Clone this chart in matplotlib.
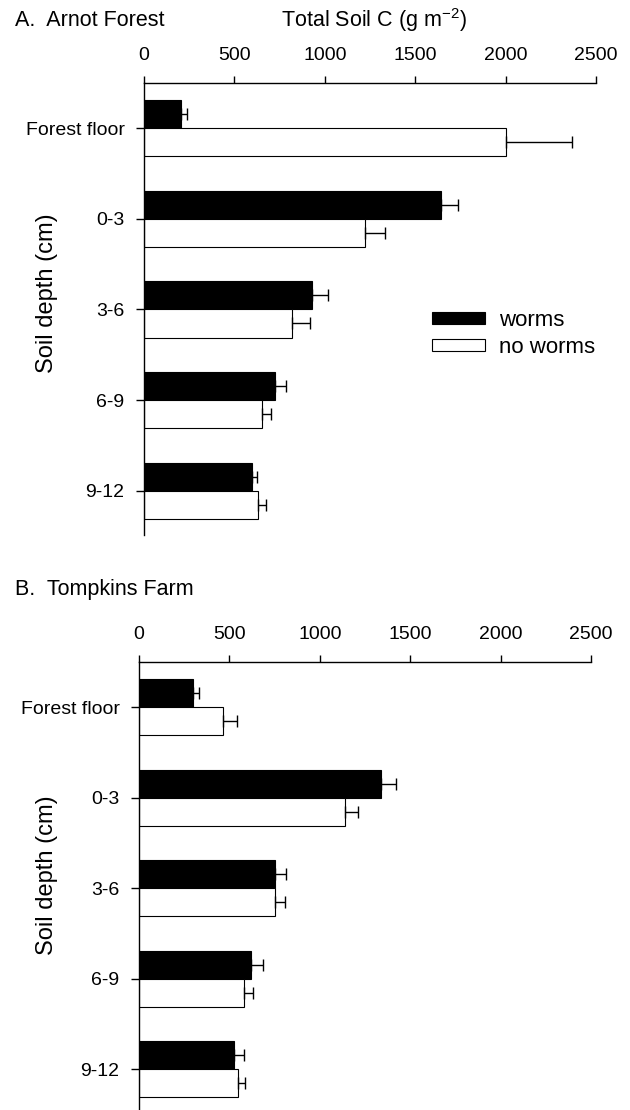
import matplotlib
matplotlib.use("Agg")
import matplotlib.pyplot as plt
import numpy as np

plt.rcParams["font.family"] = ["Liberation Sans", "DejaVu Sans"]
plt.rcParams["mathtext.default"] = "regular"

# ── data ────────────────────────────────────────────────────────────────────
depths = ["Forest floor", "0-3", "3-6", "6-9", "9-12"]

arnot_worms = [205, 1645, 930, 725, 595]
arnot_worms_err = [33, 90, 88, 58, 28]
arnot_noworms = [2000, 1222, 818, 650, 630]
arnot_noworms_err = [366, 110, 99, 55, 47]

tompkins_worms = [300, 1336, 752, 618, 525]
tompkins_worms_err = [34, 87, 59, 66, 54]
tompkins_noworms = [462, 1137, 750, 580, 545]
tompkins_noworms_err = [78, 77, 58, 52, 39]

xticks = [0, 500, 1000, 1500, 2000, 2500]

W, H = 630, 1110
BAR_H = 0.31


def _panel(fig, rect_px, worms, worms_err, noworms, noworms_err, ybottom):
    left, top, width, bottom = rect_px
    ax = fig.add_axes([left / W, 1 - bottom / H, width / W, (bottom - top) / H])
    y = np.arange(len(depths))
    err_kw = dict(ecolor="black", elinewidth=1.0, capsize=4, capthick=1.0)
    ax.barh(y - BAR_H / 2, worms, height=BAR_H, color="black",
            edgecolor="black", linewidth=0.8, label="worms")
    ax.errorbar(worms, y - BAR_H / 2, xerr=[np.zeros(len(worms)), worms_err],
                fmt="none", **err_kw)
    ax.barh(y + BAR_H / 2, noworms, height=BAR_H, color="white",
            edgecolor="black", linewidth=0.8, label="no worms")
    ax.errorbar(noworms, y + BAR_H / 2, xerr=[np.zeros(len(noworms)), noworms_err],
                fmt="none", **err_kw)

    ax.set_xlim(0, 2500)
    ax.set_ylim(ybottom, -0.5)
    ax.set_xticks(xticks)
    ax.set_yticks(y)
    ax.set_yticklabels(depths)
    ax.xaxis.tick_top()
    for side in ("right", "bottom"):
        ax.spines[side].set_visible(False)
    for side in ("top", "left"):
        ax.spines[side].set_linewidth(1.0)
    ax.tick_params(axis="x", direction="out", length=5, width=1.0,
                   pad=9, labelsize=14)
    ax.tick_params(axis="y", direction="out", length=6, width=1.0,
                   pad=8, labelsize=14)
    ax.set_ylabel("Soil depth (cm)", fontsize=17)
    return ax


fig = plt.figure(figsize=(6.3, 11.1), dpi=100)

ax_a = _panel(fig, (144, 83, 452, 535), arnot_worms, arnot_worms_err,
              arnot_noworms, arnot_noworms_err, 4.49)
ax_a.yaxis.set_label_coords(-0.19, 0.535)

ax_b = _panel(fig, (139, 662, 452, 1110), tompkins_worms, tompkins_worms_err,
              tompkins_noworms, tompkins_noworms_err, 4.45)
ax_b.yaxis.set_label_coords(-0.18, 0.525)

fig.text(15 / W, 1 - 20 / H, "A.  Arnot Forest", fontsize=15.5,
         ha="left", va="center")
fig.text(374 / W, 1 - 20 / H, r"Total Soil C (g m$^{-2}$)", fontsize=15.5,
         ha="center", va="center")
fig.text(15 / W, 1 - 590 / H, "B.  Tompkins Farm", fontsize=15.5,
         ha="left", va="center")

ax_a.legend(loc="center left", bbox_to_anchor=(432 / W, 1 - 334 / H),
            bbox_transform=fig.transFigure, frameon=False, fontsize=16,
            borderpad=0, borderaxespad=0, handlelength=2.4,
            handleheight=0.45, handletextpad=0.6, labelspacing=0.3)

fig.savefig("out.png", dpi=100)
